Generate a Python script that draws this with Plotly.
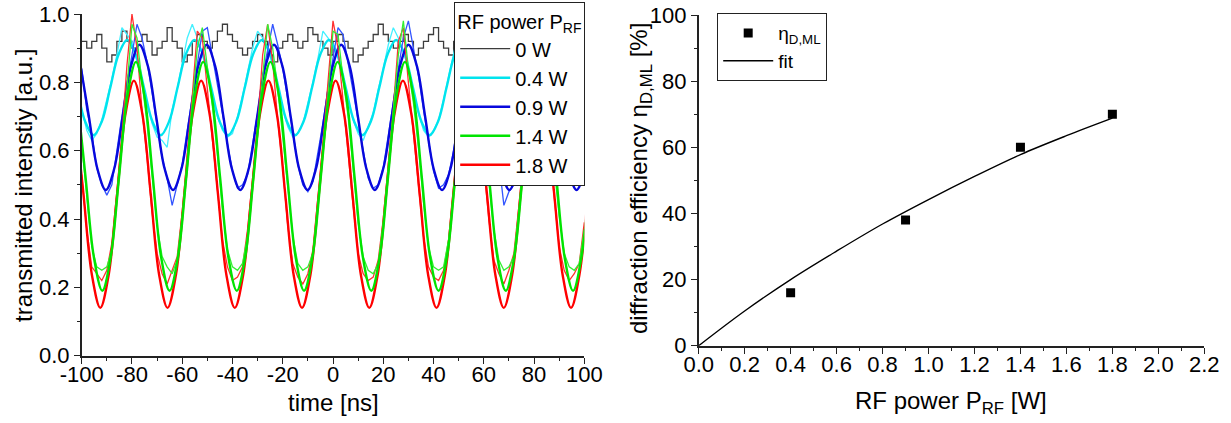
import plotly.graph_objects as go

# ---------------- left panel data ----------------
t_meas = list(range(-100, 101, 2))  # ns, sample grid of the stepped measurements

meas_0W = [0.92,0.90,0.92,0.94,0.90,0.86,0.88,0.92,0.95,0.92,
           0.90,0.92,0.94,0.92,0.88,0.90,0.92,0.96,0.92,0.90,
           0.86,0.88,0.92,0.94,0.92,0.90,0.92,0.95,0.97,0.94,
           0.92,0.90,0.88,0.90,0.92,0.94,0.92,0.88,0.86,0.90,
           0.92,0.94,0.92,0.90,0.92,0.96,0.94,0.92,0.90,0.88,
           0.92,0.94,0.92,0.90,0.86,0.88,0.90,0.92,0.94,0.97,
           0.94,0.92,0.90,0.92,0.94,0.92,0.88,0.90,0.92,0.94,
           0.96,0.92,0.90,0.88,0.92,0.94,0.92,0.90,0.92,0.95,
           0.92,0.90,0.88,0.92,0.94,0.92,0.90,0.92,0.94,0.90,
           0.86,0.90,0.92,0.94,0.92,0.90,0.92,0.94,0.92,0.90,
           0.92]

meas_04W = [0.72,0.66,0.63,0.65,0.69,0.75,0.81,0.88,0.96,0.94,
            0.92,0.86,0.80,0.74,0.68,0.64,0.63,0.61,0.72,0.78,
            0.85,0.93,0.97,0.93,0.88,0.83,0.76,0.70,0.66,0.64,
            0.65,0.70,0.76,0.83,0.90,0.95,0.93,0.90,0.85,0.79,
            0.72,0.67,0.64,0.65,0.68,0.74,0.80,0.87,0.95,0.93,
            0.91,0.87,0.81,0.75,0.69,0.65,0.63,0.67,0.71,0.78,
            0.84,0.91,0.96,0.93,0.89,0.84,0.77,0.71,0.66,0.64,
            0.66,0.69,0.75,0.82,0.89,0.95,0.94,0.90,0.86,0.80,
            0.73,0.68,0.64,0.65,0.68,0.73,0.79,0.86,0.93,0.96,
            0.92,0.88,0.82,0.76,0.70,0.66,0.63,0.66,0.70,0.77,
            0.83]

meas_09W = [0.84,0.72,0.65,0.55,0.50,0.47,0.50,0.60,0.70,0.80,
            0.88,0.97,0.93,0.86,0.77,0.67,0.58,0.52,0.44,0.50,
            0.56,0.66,0.76,0.85,0.95,0.96,0.88,0.80,0.71,0.62,
            0.54,0.49,0.50,0.53,0.62,0.71,0.82,0.90,0.97,0.91,
            0.84,0.75,0.65,0.56,0.50,0.48,0.51,0.59,0.68,0.78,
            0.87,0.96,0.94,0.86,0.78,0.69,0.60,0.52,0.49,0.50,
            0.55,0.64,0.74,0.84,0.93,0.98,0.90,0.82,0.72,0.63,
            0.54,0.49,0.50,0.53,0.60,0.70,0.80,0.89,0.96,0.92,
            0.85,0.76,0.66,0.57,0.44,0.48,0.50,0.57,0.67,0.77,
            0.86,0.94,0.95,0.87,0.80,0.70,0.60,0.53,0.50,0.51,
            0.54]

meas_14W = [0.62,0.47,0.32,0.26,0.25,0.26,0.31,0.47,0.63,0.78,
            0.97,0.93,0.80,0.68,0.53,0.38,0.29,0.26,0.24,0.28,
            0.41,0.57,0.72,0.90,0.96,0.84,0.73,0.59,0.43,0.31,
            0.26,0.25,0.27,0.35,0.50,0.66,0.80,0.97,0.90,0.78,
            0.64,0.49,0.35,0.27,0.25,0.26,0.30,0.45,0.61,0.76,
            0.95,0.94,0.81,0.70,0.55,0.39,0.29,0.25,0.24,0.27,
            0.39,0.55,0.70,0.88,0.98,0.84,0.74,0.61,0.45,0.32,
            0.26,0.25,0.26,0.34,0.48,0.64,0.79,0.96,0.92,0.79,
            0.66,0.51,0.37,0.28,0.25,0.26,0.29,0.43,0.59,0.74,
            0.92,0.97,0.83,0.71,0.57,0.41,0.30,0.26,0.25,0.27,
            0.37]

meas_18W = [0.53,0.37,0.26,0.24,0.22,0.25,0.33,0.48,0.64,0.85,
            1.00,0.90,0.72,0.58,0.42,0.30,0.24,0.21,0.25,0.29,
            0.42,0.58,0.76,0.95,0.93,0.78,0.63,0.49,0.34,0.26,
            0.22,0.23,0.26,0.37,0.52,0.67,0.88,0.97,0.86,0.69,
            0.55,0.38,0.27,0.23,0.21,0.24,0.31,0.46,0.62,0.80,
            0.98,0.90,0.74,0.60,0.44,0.30,0.24,0.22,0.23,0.28,
            0.40,0.56,0.72,0.92,0.96,0.80,0.65,0.50,0.35,0.26,
            0.23,0.22,0.25,0.34,0.50,0.65,0.86,0.97,0.88,0.71,
            0.56,0.40,0.28,0.24,0.21,0.25,0.30,0.44,0.60,0.76,
            0.95,0.92,0.76,0.62,0.47,0.32,0.25,0.22,0.24,0.27,
            0.39]

# fit curves, read at every 1/8 period
fit_t_04W = [-105.34,-101.99,-98.65,-95.30,-91.96,-88.61,-85.27,-81.92,-78.58,-75.23,
             -71.89,-68.54,-65.20,-61.85,-58.51,-55.16,-51.82,-48.47,-45.13,-41.78,
             -38.44,-35.09,-31.75,-28.40,-25.06,-21.71,-18.37,-15.02,-11.68,-8.33,
             -4.99,-1.64,1.70,5.05,8.39,11.74,15.08,18.43,21.77,25.12,
             28.46,31.81,35.15,38.50,41.84,45.19,48.53,51.88,55.22,58.57,
             61.91,65.26,68.60,71.95,75.29,78.64,81.98,85.33,88.67,92.02,
             95.36,98.71]
fit_t_09W = [-100.44,-97.09,-93.75,-90.40,-87.06,-83.71,-80.37,-77.02,-73.68,-70.33,
             -66.99,-63.64,-60.30,-56.95,-53.61,-50.26,-46.92,-43.57,-40.23,-36.88,
             -33.54,-30.19,-26.85,-23.50,-20.16,-16.81,-13.47,-10.12,-6.78,-3.43,
             -0.09,3.26,6.60,9.95,13.29,16.64,19.98,23.33,26.67,30.02,
             33.36,36.71,40.05,43.40,46.74,50.09,53.43,56.78,60.12,63.47,
             66.81,70.16,73.50,76.85,80.19,83.54,86.88,90.23,93.57,96.92,
             100.26,103.61]
fit_t_14W = [-101.84,-98.49,-95.15,-91.80,-88.46,-85.11,-81.77,-78.42,-75.08,-71.73,
             -68.39,-65.04,-61.70,-58.35,-55.01,-51.66,-48.32,-44.97,-41.63,-38.28,
             -34.94,-31.59,-28.25,-24.90,-21.56,-18.21,-14.87,-11.52,-8.18,-4.83,
             -1.49,1.86,5.20,8.55,11.89,15.24,18.58,21.93,25.27,28.62,
             31.96,35.31,38.65,42.00,45.34,48.69,52.03,55.38,58.72,62.07,
             65.41,68.76,72.10,75.45,78.79,82.14,85.48,88.83,92.17,95.52,
             98.86,102.21]
fit_t_18W = [-102.64,-99.29,-95.95,-92.60,-89.26,-85.91,-82.57,-79.22,-75.88,-72.53,
             -69.19,-65.84,-62.50,-59.15,-55.81,-52.46,-49.12,-45.77,-42.43,-39.08,
             -35.74,-32.39,-29.05,-25.70,-22.36,-19.01,-15.67,-12.32,-8.98,-5.63,
             -2.29,1.06,4.40,7.75,11.09,14.44,17.78,21.13,24.47,27.82,
             31.16,34.51,37.85,41.20,44.54,47.89,51.23,54.58,57.92,61.27,
             64.61,67.96,71.30,74.65,77.99,81.34,84.68,88.03,91.37,94.72,
             98.06,101.41]

fit_04W = [0.883,0.785,0.686,
           0.645,0.686,0.785,0.883,0.924,0.883,0.785,0.686,
           0.645,0.686,0.785,0.883,0.924,0.883,0.785,0.686,
           0.645,0.686,0.785,0.883,0.924,0.883,0.785,0.686,
           0.645,0.686,0.785,0.883,0.924,0.883,0.785,0.686,
           0.645,0.686,0.785,0.883,0.924,0.883,0.785,0.686,
           0.645,0.686,0.785,0.883,0.924,0.883,0.785,0.686,
           0.645,0.686,0.785,0.883,0.924,0.883,0.785,0.686,
           0.645,0.686,0.785]
fit_09W = [0.848,0.698,0.547,
           0.485,0.547,0.698,0.848,0.910,0.848,0.698,0.547,
           0.485,0.547,0.698,0.848,0.910,0.848,0.698,0.547,
           0.485,0.547,0.698,0.848,0.910,0.848,0.698,0.547,
           0.485,0.547,0.698,0.848,0.910,0.848,0.698,0.547,
           0.485,0.547,0.698,0.848,0.910,0.848,0.698,0.547,
           0.485,0.547,0.698,0.848,0.910,0.848,0.698,0.547,
           0.485,0.547,0.698,0.848,0.910,0.848,0.698,0.547,
           0.485,0.547,0.698]
fit_14W = [0.762,0.525,0.288,
           0.190,0.288,0.525,0.762,0.860,0.762,0.525,0.288,
           0.190,0.288,0.525,0.762,0.860,0.762,0.525,0.288,
           0.190,0.288,0.525,0.762,0.860,0.762,0.525,0.288,
           0.190,0.288,0.525,0.762,0.860,0.762,0.525,0.288,
           0.190,0.288,0.525,0.762,0.860,0.762,0.525,0.288,
           0.190,0.288,0.525,0.762,0.860,0.762,0.525,0.288,
           0.190,0.288,0.525,0.762,0.860,0.762,0.525,0.288,
           0.190,0.288,0.525]
fit_18W = [0.708,0.473,0.237,
           0.140,0.237,0.473,0.708,0.805,0.708,0.473,0.237,
           0.140,0.237,0.473,0.708,0.805,0.708,0.473,0.237,
           0.140,0.237,0.473,0.708,0.805,0.708,0.473,0.237,
           0.140,0.237,0.473,0.708,0.805,0.708,0.473,0.237,
           0.140,0.237,0.473,0.708,0.805,0.708,0.473,0.237,
           0.140,0.237,0.473,0.708,0.805,0.708,0.473,0.237,
           0.140,0.237,0.473,0.708,0.805,0.708,0.473,0.237,
           0.140,0.237,0.473]

legend_labels = ["0 W", "0.4 W", "0.9 W", "1.4 W", "1.8 W"]
time_ticks = [-100, -80, -60, -40, -20, 0, 20, 40, 60, 80, 100]
int_ticks = [0.0, 0.2, 0.4, 0.6, 0.8, 1.0]

# ---------------- right panel data ----------------
rf_power = [0.4, 0.9, 1.4, 1.8]
eta_dml = [16, 38, 60, 70]
fit_power = [0.0, 0.2, 0.4, 0.6, 0.8, 1.0, 1.2, 1.4, 1.6, 1.8]
fit_eta = [0.0, 10.5, 20.0, 28.6, 36.8, 44.2, 51.2, 57.8, 63.5, 68.8]
power_ticks = [0.0, 0.2, 0.4, 0.6, 0.8, 1.0, 1.2, 1.4, 1.6, 1.8, 2.0, 2.2]
eta_ticks = [0, 20, 40, 60, 80, 100]

# ---------------- styling ----------------
FONT = "Arial, 'Liberation Sans', sans-serif"
C_BLACK = "#3c3c3c"
C_CYAN_F, C_CYAN_M = "#00E4EE", "#44F0FF"
C_BLUE_F, C_BLUE_M = "#0808DC", "#3355FF"
C_GREEN_F, C_GREEN_M = "#00E400", "#33F033"
C_RED_F, C_RED_M = "#FF0000", "#FF3030"
W_FIT, W_MEAS = 2.4, 1.3

fig = go.Figure()

def meas(y, color, shape="linear", **kw):
    n = min(len(t_meas), len(y))
    fig.add_trace(go.Scatter(x=t_meas[:n], y=y[:n], mode="lines",
                             line=dict(color=color, width=W_MEAS, shape=shape),
                             xaxis="x", yaxis="y", hoverinfo="skip", **kw))

def fit(t, y, color, name, rank):
    n = min(len(t), len(y))
    fig.add_trace(go.Scatter(x=t[:n], y=y[:n], mode="lines", name=name,
                             line=dict(color=color, width=W_FIT, shape="spline", smoothing=1.0),
                             xaxis="x", yaxis="y", legend="legend", legendrank=rank,
                             showlegend=True))

meas(meas_0W, C_BLACK, shape="hv", name=legend_labels[0], showlegend=True, legend="legend", legendrank=1)
meas(meas_04W, C_CYAN_M, showlegend=False)
fit(fit_t_04W, fit_04W, C_CYAN_F, legend_labels[1], 2)
meas(meas_09W, C_BLUE_M, showlegend=False)
fit(fit_t_09W, fit_09W, C_BLUE_F, legend_labels[2], 3)
meas(meas_18W, C_RED_M, showlegend=False)
fit(fit_t_18W, fit_18W, C_RED_F, legend_labels[4], 5)
meas(meas_14W, C_GREEN_M, showlegend=False)
fit(fit_t_14W, fit_14W, C_GREEN_F, legend_labels[3], 4)

# right panel
fig.add_trace(go.Scatter(x=rf_power, y=eta_dml, mode="markers", name="η<sub>D,ML</sub>",
                         marker=dict(symbol="square", size=9, color="black"),
                         xaxis="x2", yaxis="y2", legend="legend2"))
fig.add_trace(go.Scatter(x=fit_power, y=fit_eta, mode="lines", name="fit",
                         line=dict(color="black", width=1.4, shape="spline"),
                         xaxis="x2", yaxis="y2", legend="legend2"))

W, H = 1231, 423
def px(x): return x / W
def py(y): return (H - y) / H

axis_common = dict(showline=True, linecolor="#222", linewidth=1.6, mirror=False,
                   ticks="outside", ticklen=6, tickwidth=1.4, tickcolor="#222",
                   showgrid=False, zeroline=False,
                   tickfont=dict(family=FONT, size=22, color="black"),
                   automargin=False)

fig.update_layout(
    width=W, height=H,
    margin=dict(l=0, r=0, t=0, b=0),
    paper_bgcolor="white", plot_bgcolor="white",
    font=dict(family=FONT, color="black"),
    xaxis=dict(domain=[px(81.7), px(584.3)], range=[-100, 100], anchor="y",
               tickvals=time_ticks, ticktext=[str(v) for v in time_ticks],
               minor=dict(dtick=10, ticks="outside", ticklen=3, tickwidth=1.2, tickcolor="#222"),
               ticklabelstandoff=-8, **axis_common),
    yaxis=dict(domain=[py(355.7), py(14)], range=[0, 1], anchor="x",
               tickvals=int_ticks, ticktext=[f"{v:.1f}" for v in int_ticks],
               minor=dict(dtick=0.1, ticks="outside", ticklen=3, tickwidth=1.2, tickcolor="#222"),
               **axis_common),
    xaxis2=dict(domain=[px(698.7), px(1204.3)], range=[0, 2.2], anchor="y2",
                tickvals=power_ticks, ticktext=[f"{v:.1f}" for v in power_ticks],
                minor=dict(dtick=0.1, ticks="outside", ticklen=3, tickwidth=1.2, tickcolor="#222"),
                ticklabelstandoff=-8, **axis_common),
    yaxis2=dict(domain=[py(345.7), py(15)], range=[0, 100], anchor="x2",
                tickvals=eta_ticks, ticktext=[str(v) for v in eta_ticks],
                minor=dict(dtick=10, ticks="outside", ticklen=3, tickwidth=1.2, tickcolor="#222"),
                **axis_common),
    legend=dict(x=px(454), y=py(2), xanchor="left", yanchor="top",
                bgcolor="white", bordercolor="#222", borderwidth=1.2,
                title=dict(text="RF power P<sub>RF</sub>", font=dict(family=FONT, size=20)),
                font=dict(family=FONT, size=20), traceorder="normal", itemwidth=50),
    legend2=dict(x=px(717), y=py(13), xanchor="left", yanchor="top",
                 bgcolor="white", bordercolor="#222", borderwidth=1.2,
                 font=dict(family=FONT, size=19), traceorder="normal", itemwidth=50),
    showlegend=True,
)

title_font = dict(family=FONT, size=24, color="black")
fig.add_annotation(text="time [ns]", x=px(333), y=py(402), xref="paper", yref="paper",
                   showarrow=False, xanchor="center", yanchor="middle", font=title_font)
fig.add_annotation(text="transmitted intenstiy [a.u.]", x=px(23), y=py(186), xref="paper", yref="paper",
                   showarrow=False, xanchor="center", yanchor="middle", textangle=-90, font=title_font)
fig.add_annotation(text="RF power P<sub>RF</sub> [W]", x=px(951), y=py(402), xref="paper", yref="paper",
                   showarrow=False, xanchor="center", yanchor="middle", font=title_font)
fig.add_annotation(text="diffraction efficiency η<sub>D,ML</sub> [%]", x=px(641), y=py(179), xref="paper", yref="paper",
                   showarrow=False, xanchor="center", yanchor="middle", textangle=-90, font=title_font)

fig.write_html("out.html")
